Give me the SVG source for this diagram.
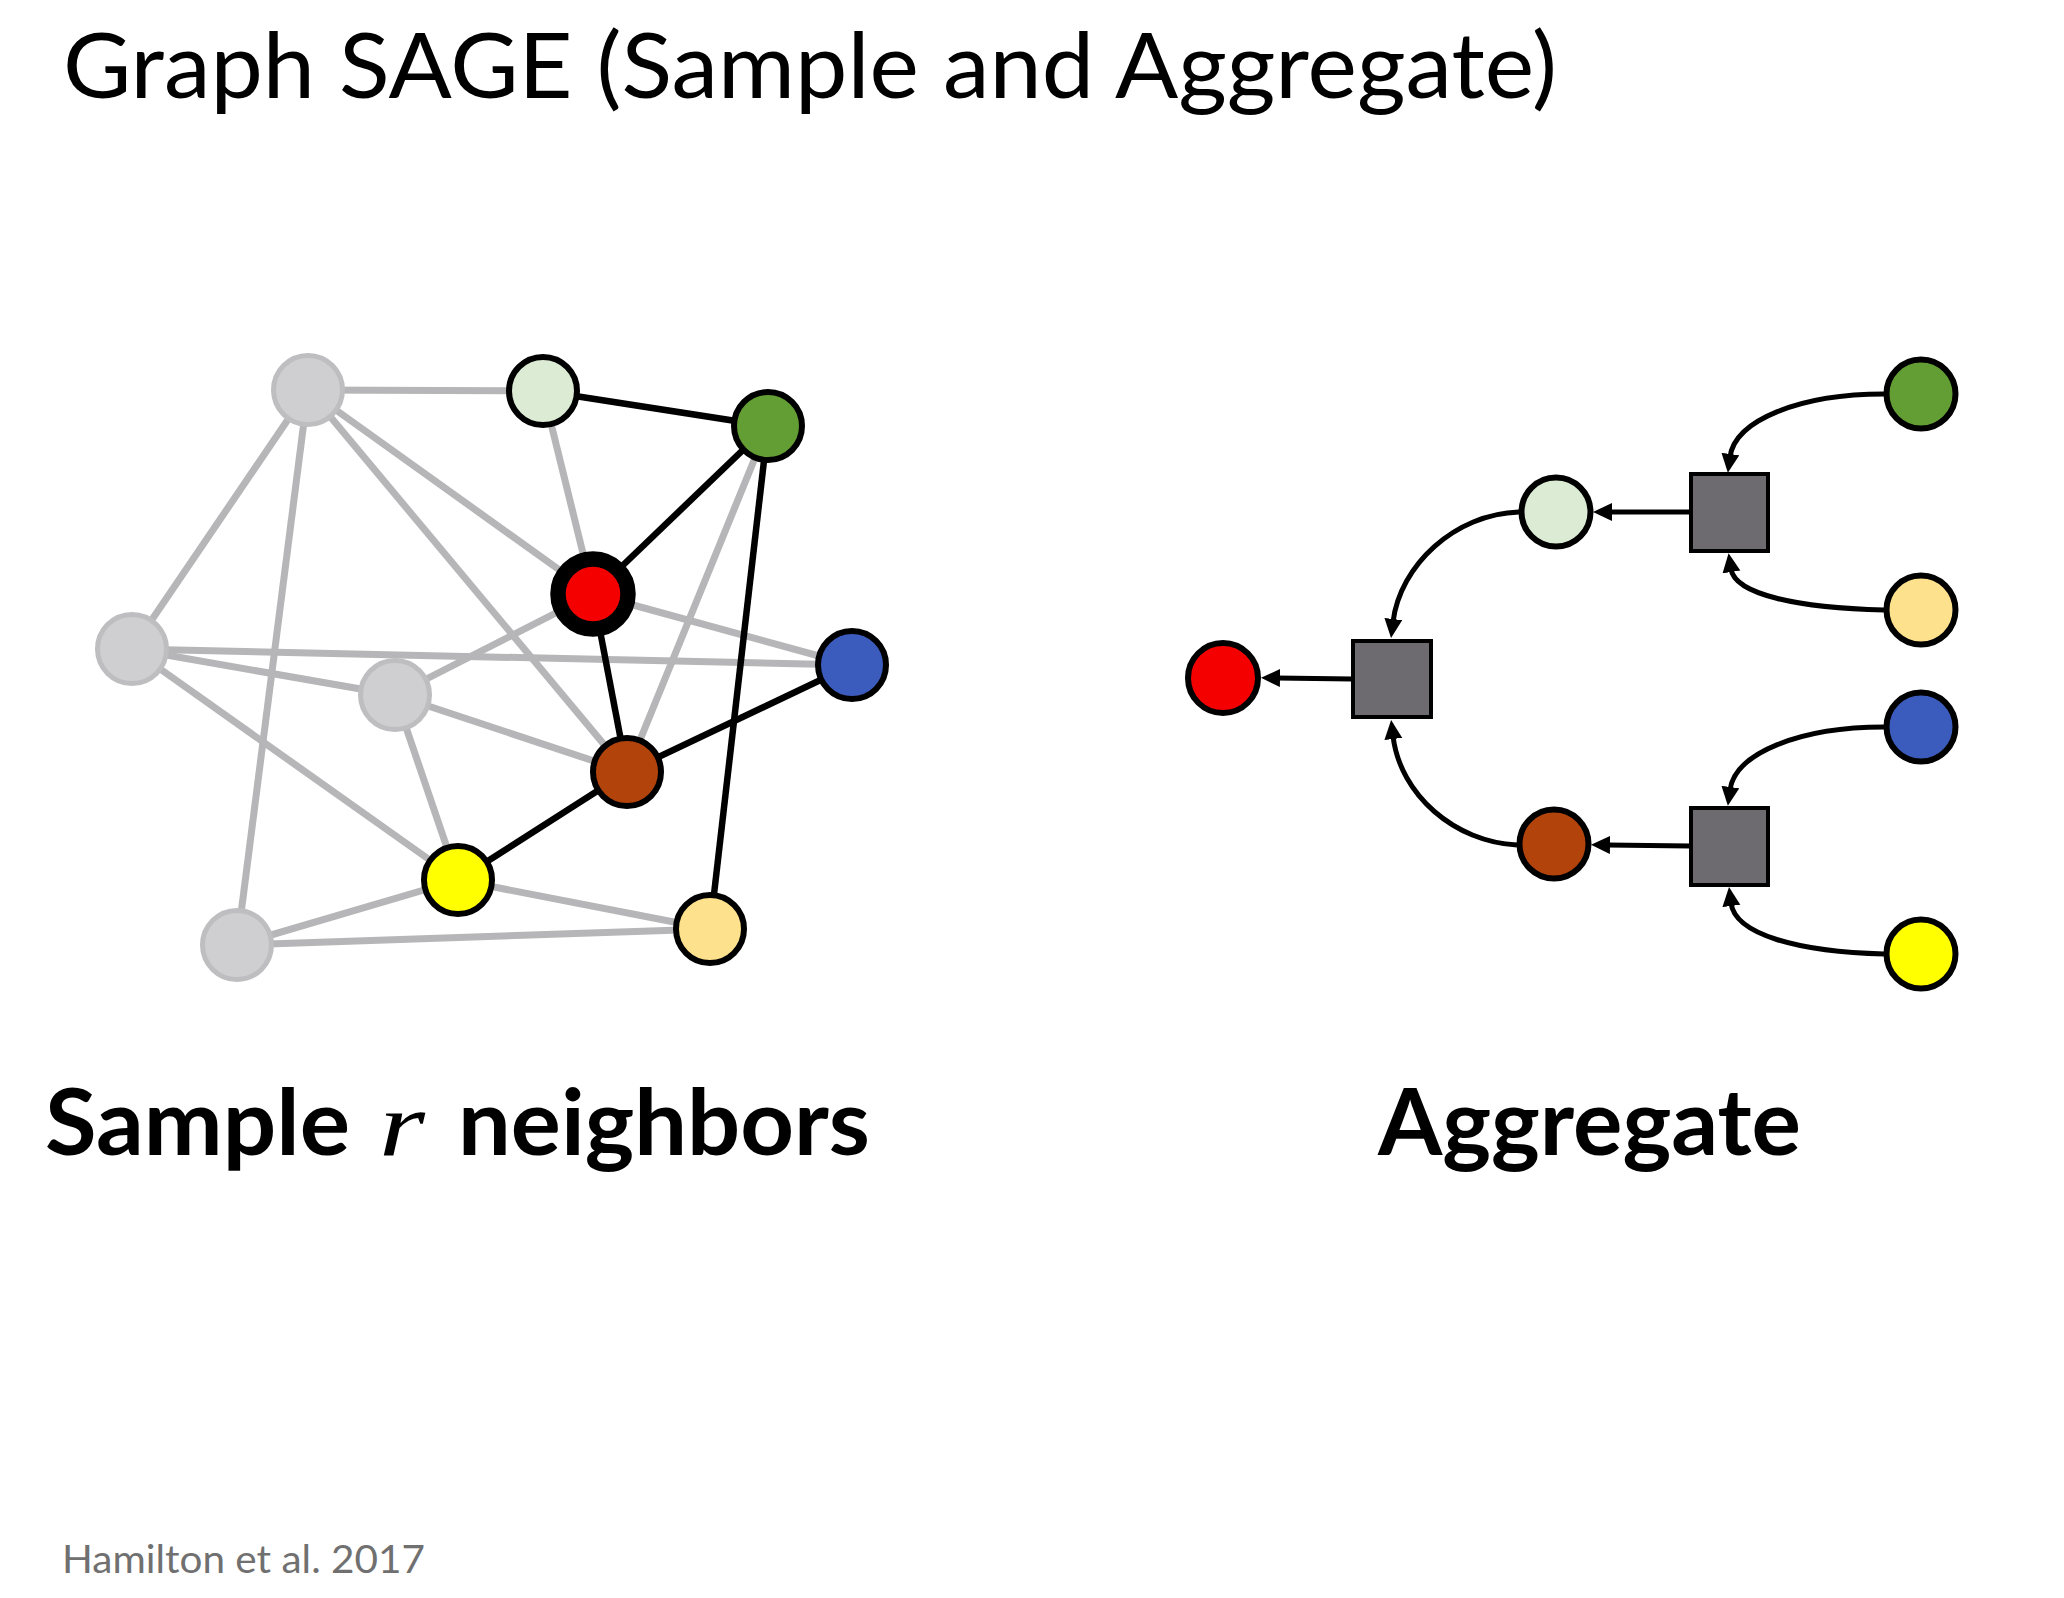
<svg xmlns="http://www.w3.org/2000/svg" width="2064" height="1598" viewBox="0 0 2064 1598">
<style>
.title{font-family:Lato,"Open Sans","Liberation Sans",sans-serif;font-size:92px;fill:#000}
.label{font-family:Lato,"Open Sans","Liberation Sans",sans-serif;font-size:91px;font-weight:bold;fill:#000}
.math{font-family:"Liberation Serif",serif;font-style:italic;font-weight:normal}
.foot{font-family:Lato,"Open Sans","Liberation Sans",sans-serif;font-size:39px;fill:#707070}
.ge{stroke:#b6b6b8;stroke-width:7;fill:none}
.be{stroke:#000;stroke-width:6.5;fill:none}
.gn{fill:#cfcfd1;stroke:#bebec0;stroke-width:5}
.n{stroke:#000;stroke-width:6}
.agg{fill:#6d6b6f;stroke:#000;stroke-width:4}
.arr{stroke:#000;stroke-width:5;fill:none;marker-end:url(#ah)}
</style>
<defs>
<marker id="ah" markerUnits="userSpaceOnUse" markerWidth="22" markerHeight="20" refX="3" refY="9" orient="auto">
<path d="M0,0 L19,9 L0,18 z" fill="#000"/>
</marker>
</defs>
<rect width="2064" height="1598" fill="#fff"/>
<text class="title" x="63" y="98" textLength="1494" lengthAdjust="spacingAndGlyphs">Graph SAGE (Sample and Aggregate)</text>

<g id="connectors">
<g id="left-edges">
<line class="ge" x1="308" y1="390" x2="543" y2="391"/>
<line class="ge" x1="308" y1="390" x2="132" y2="649"/>
<line class="ge" x1="308" y1="390" x2="237" y2="945"/>
<line class="ge" x1="308" y1="390" x2="593" y2="594"/>
<line class="ge" x1="308" y1="390" x2="627" y2="772"/>
<line class="ge" x1="543" y1="391" x2="593" y2="594"/>
<line class="ge" x1="132" y1="649" x2="852" y2="665"/>
<line class="ge" x1="132" y1="649" x2="395" y2="695"/>
<line class="ge" x1="132" y1="649" x2="458" y2="880"/>
<line class="ge" x1="395" y1="695" x2="593" y2="594"/>
<line class="ge" x1="395" y1="695" x2="627" y2="772"/>
<line class="ge" x1="395" y1="695" x2="458" y2="880"/>
<line class="ge" x1="593" y1="594" x2="852" y2="665"/>
<line class="ge" x1="768" y1="426" x2="627" y2="772"/>
<line class="ge" x1="458" y1="880" x2="237" y2="945"/>
<line class="ge" x1="458" y1="880" x2="710" y2="929"/>
<line class="ge" x1="237" y1="945" x2="710" y2="929"/>
<line class="be" x1="543" y1="391" x2="768" y2="426"/>
<line class="be" x1="768" y1="426" x2="593" y2="594"/>
<line class="be" x1="593" y1="594" x2="627" y2="772"/>
<line class="be" x1="627" y1="772" x2="852" y2="665"/>
<line class="be" x1="627" y1="772" x2="458" y2="880"/>
<line class="be" x1="768" y1="426" x2="710" y2="929"/>
</g>
<g id="right-arrows">
<path class="arr" d="M1884,394 C1800,394 1735,420 1730,457"/>
<path class="arr" d="M1884,610 C1800,608 1735,595 1731,569"/>
<path class="arr" d="M1690,512 L1609,512"/>
<path class="arr" d="M1884,727 C1800,727 1735,753 1730,790"/>
<path class="arr" d="M1884,954 C1800,952 1735,935 1731,903"/>
<path class="arr" d="M1690,846 L1607,845"/>
<path class="arr" d="M1519,512 C1455,514 1400,565 1393,622"/>
<path class="arr" d="M1517,845 C1455,842 1400,795 1393,736"/>
<path class="arr" d="M1352,679 L1277,678"/>
</g>
</g>

<g id="left-graph">
<g id="g-a"><circle class="gn" cx="308" cy="390" r="34.5"/></g>
<g id="g-e"><circle class="gn" cx="132" cy="649" r="34.5"/></g>
<g id="g-f"><circle class="gn" cx="395" cy="695" r="34.5"/></g>
<g id="g-j"><circle class="gn" cx="237" cy="945" r="34.5"/></g>
<g id="l-lightgreen"><circle class="n" cx="543" cy="391" r="34" fill="#dcebd4"/></g>
<g id="l-green"><circle class="n" cx="768" cy="426" r="34" fill="#639e34"/></g>
<g id="l-red"><circle cx="593" cy="594" r="35" fill="#f50000" stroke="#000" stroke-width="15.5"/></g>
<g id="l-blue"><circle class="n" cx="852" cy="665" r="34" fill="#3b5cbc"/></g>
<g id="l-brown"><circle class="n" cx="627" cy="772" r="34" fill="#b2440b"/></g>
<g id="l-yellow"><circle class="n" cx="458" cy="880" r="34" fill="#ffff00"/></g>
<g id="l-orange"><circle class="n" cx="710" cy="929" r="34" fill="#fde18c"/></g>
</g>

<g id="right-graph">
<g id="r-green"><circle class="n" cx="1921" cy="394" r="34.5" fill="#639e34"/></g>
<g id="r-orange"><circle class="n" cx="1921" cy="610" r="34.5" fill="#fde18c"/></g>
<g id="r-blue"><circle class="n" cx="1921" cy="727" r="34.5" fill="#3b5cbc"/></g>
<g id="r-yellow"><circle class="n" cx="1921" cy="954" r="34.5" fill="#ffff00"/></g>
<g id="agg-top"><rect class="agg" x="1691" y="474" width="77" height="77"/></g>
<g id="agg-bottom"><rect class="agg" x="1691" y="808" width="77" height="77"/></g>
<g id="agg-left"><rect class="agg" x="1353" y="641" width="78" height="76"/></g>
<g id="r-lightgreen"><circle class="n" cx="1556" cy="512" r="34.5" fill="#dcebd4"/></g>
<g id="r-brown"><circle class="n" cx="1554" cy="844" r="34.5" fill="#b2440b"/></g>
<g id="r-red"><circle class="n" cx="1223" cy="678" r="35" fill="#f50000"/></g>
</g>

<text class="label" y="1155"><tspan x="45" textLength="305" lengthAdjust="spacingAndGlyphs">Sample</tspan> <tspan class="math" x="379" textLength="46" lengthAdjust="spacingAndGlyphs">r</tspan> <tspan x="458" textLength="412" lengthAdjust="spacingAndGlyphs">neighbors</tspan></text>
<text class="label" x="1378" y="1155" textLength="423" lengthAdjust="spacingAndGlyphs">Aggregate</text>
<text class="foot" x="62" y="1573" textLength="363" lengthAdjust="spacingAndGlyphs">Hamilton et al. 2017</text>
</svg>
